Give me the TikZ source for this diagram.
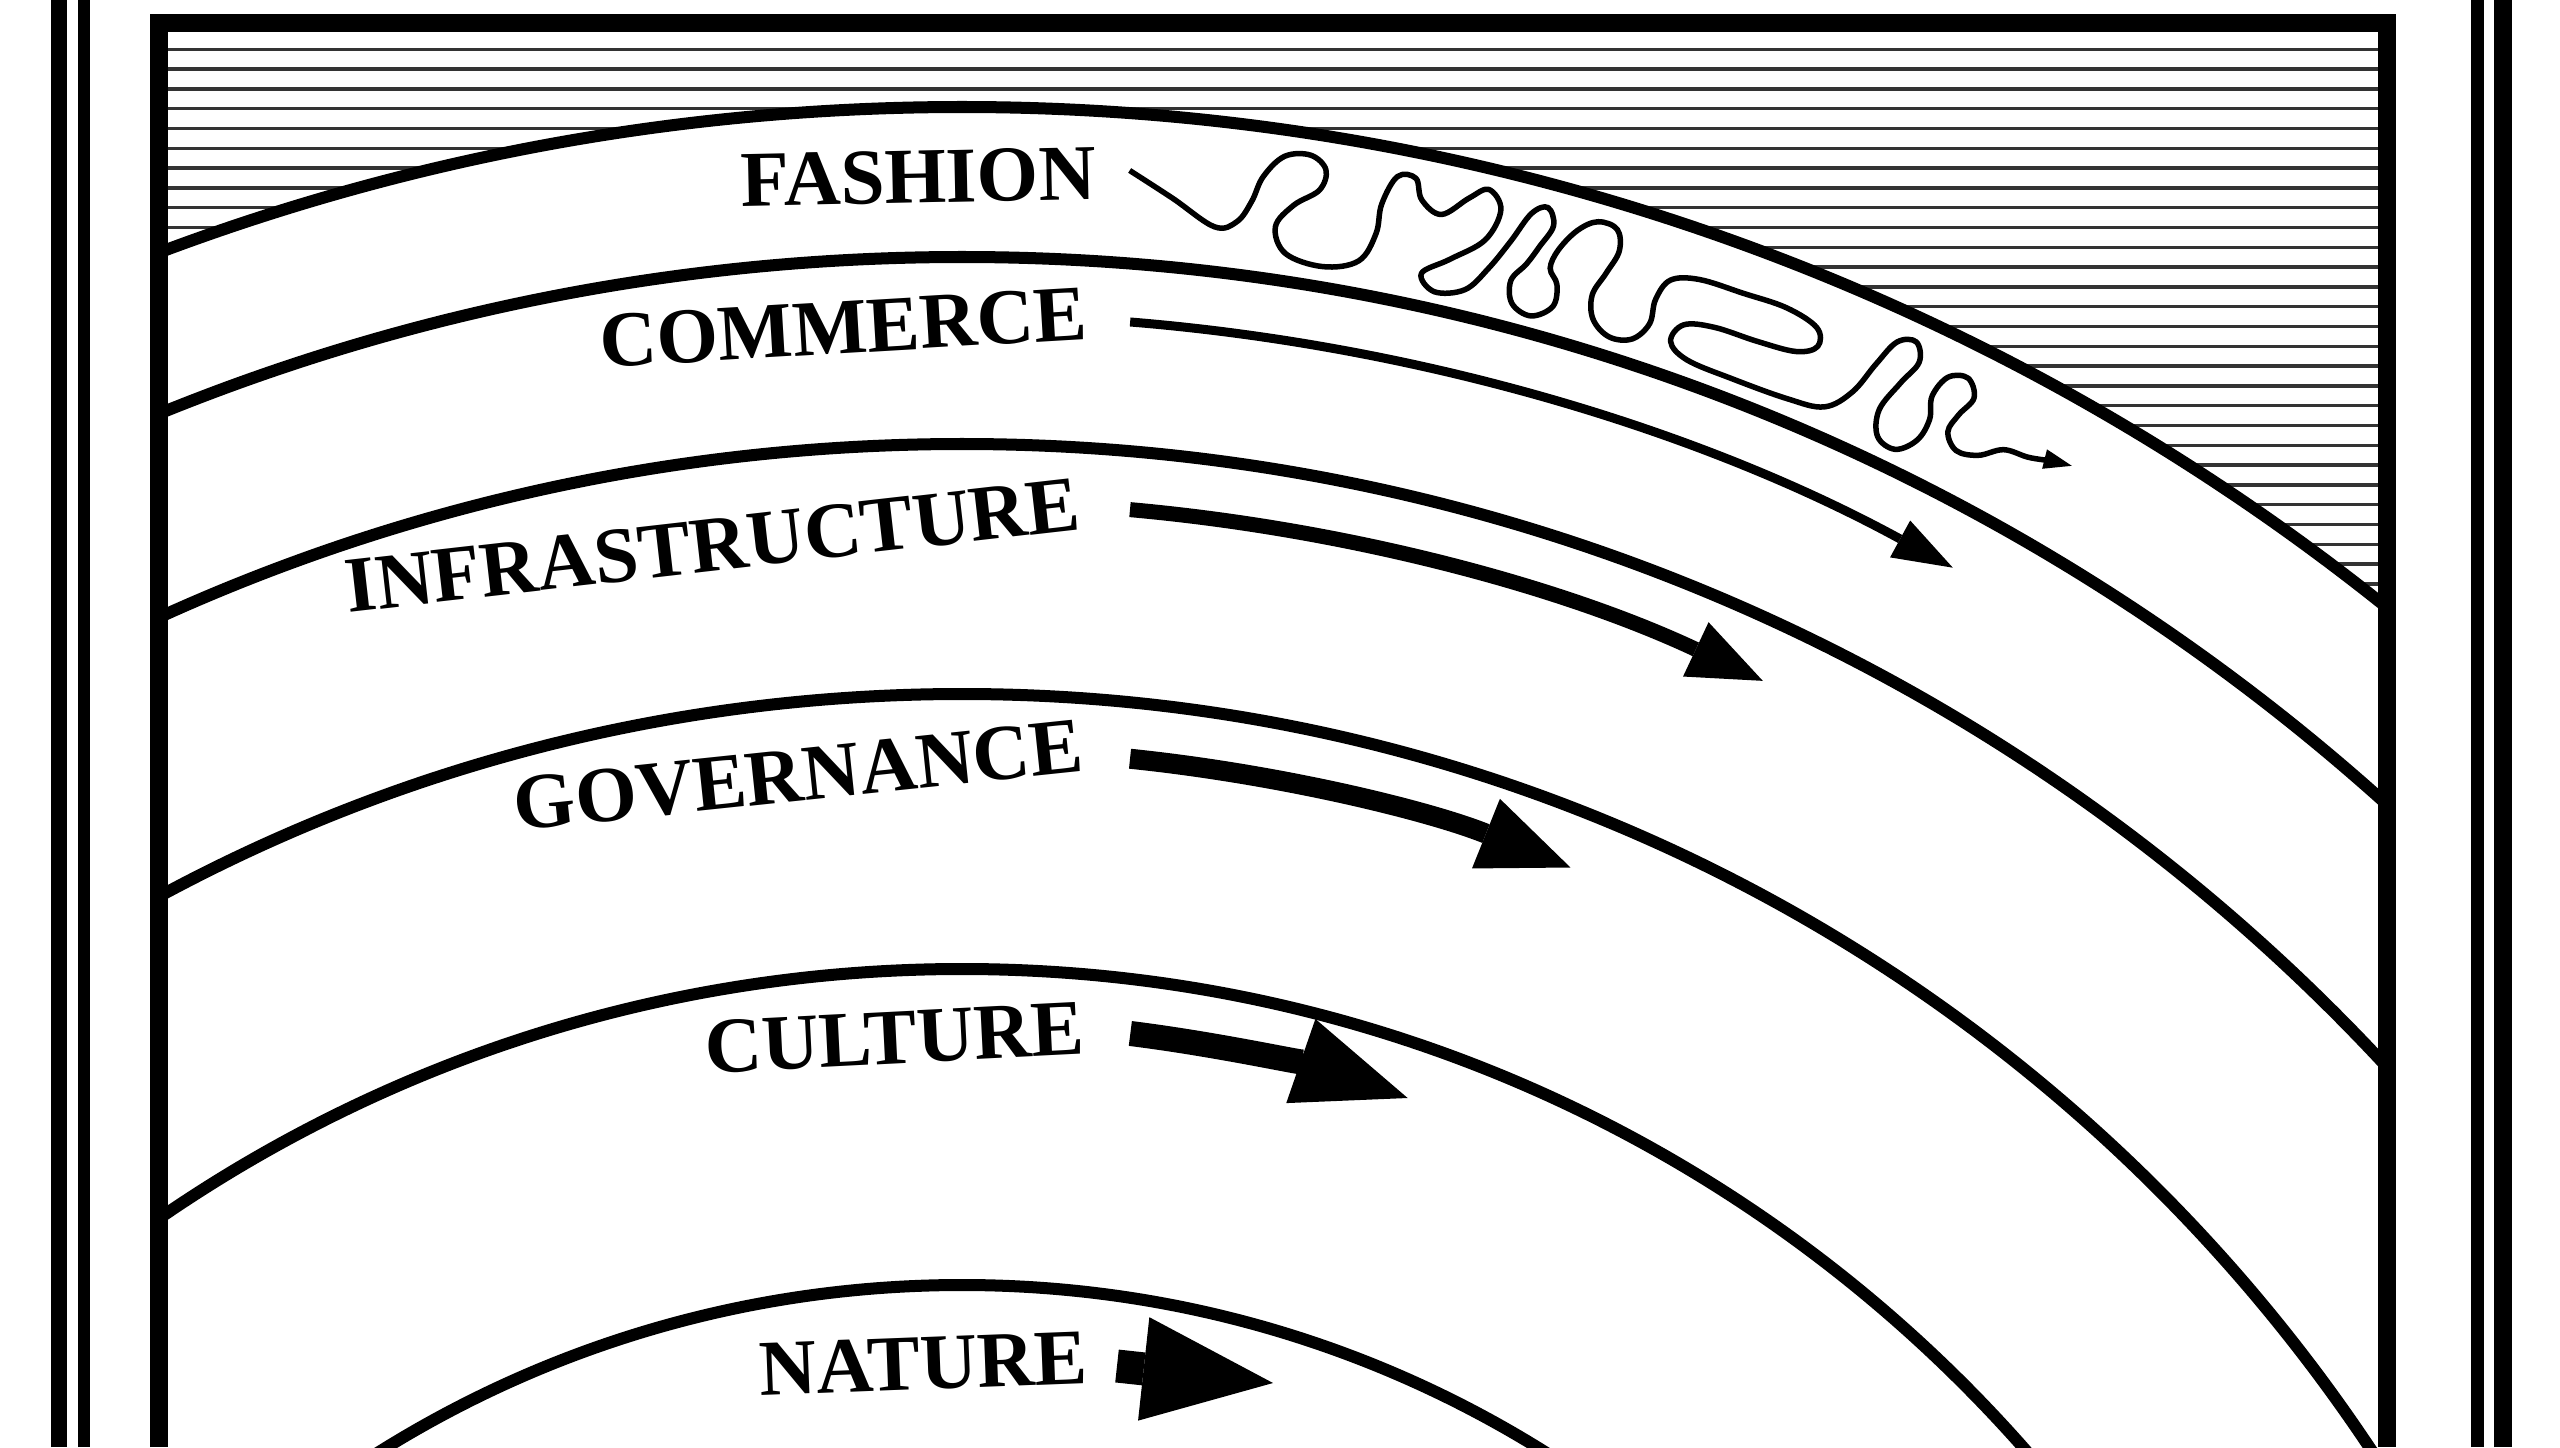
\documentclass[tikz,border=0pt]{standalone}
\usepackage{fontspec}
\setmainfont{Liberation Serif}
\usetikzlibrary{arrows.meta,calc}

\begin{document}
\begin{tikzpicture}[
    x=0.01cm, y=0.01cm,
    declare function={sa(\u)=85.67-0.02604*\u; sr(\v)=2203+\v;},
    ring/.style={line width=0.12cm},
    hatch/.style={line width=0.035cm, black!80},
    frame/.style={line width=0.18cm, line join=miter},
    layer/.style={font=\bfseries\fontsize{22.5}{27}\selectfont, anchor=base east, inner sep=0pt},
    flow/.style n args={3}{line width=#1, -{Triangle[length=#2, width=#3, line width=0pt]}},
    fashline/.style={line width=0.055cm, line join=round, -{Triangle[length=0.28cm, width=0.2cm, line width=0pt]}},
]
\useasboundingbox (0,0) rectangle (2560,1447);
\coordinate (ctr) at (962,-938);

\foreach \n in {0,...,28}
  \draw[hatch] (168,{1397.7-19.8*\n}) -- (2378,{1397.7-19.8*\n});

\begin{scope}
  \clip (168,0) rectangle (2378,1415);
  \fill[white] (ctr) circle[radius=2278];
  \foreach \r in {2278,2128,1941,1691,1416,1100}
    \draw[ring] (ctr) circle[radius=\r];
\end{scope}

\draw[frame] (159,0) -- (159,1424) -- (2387,1424) -- (2387,0);
\foreach \x/\w in {59/0.15cm,84/0.12cm,2477/0.13cm,2503/0.18cm}
  \draw[line width=\w] (\x,0) -- (\x,1447);

\node[layer, rotate=1.2] (fashion) at (1097,1248) {FASHION};
\node[layer, rotate=3.4] (commerce) at (1089,1108) {COMMERCE};
\node[layer, rotate=6.5] (infra) at (1083,918) {INFRASTRUCTURE};
\node[layer, rotate=6] (gov) at (1086,676) {GOVERNANCE};
\node[layer, rotate=2.9] (culture) at (1086,393) {CULTURE};
\node[layer, rotate=2.2] (nature) at (1089,64) {NATURE};

\coordinate (comA) at ($(ctr)+(85.34:2070)$);
\coordinate (infA) at ($(ctr)+(84.88:1883)$);
\coordinate (govA) at ($(ctr)+(84.1:1635)$);
\coordinate (culA) at ($(ctr)+(82.9:1362)$);
\coordinate (natA) at (1117,81);
\coordinate (natB) at (1273,64);

\draw[flow={0.09cm}{0.6cm}{0.42cm}] (comA) arc[start angle=85.34, end angle=61.4, radius=2070];
\draw[flow={0.15cm}{0.74cm}{0.6cm}] (infA) arc[start angle=84.88, end angle=64.83, radius=1883];
\draw[flow={0.2cm}{0.91cm}{0.75cm}] (govA) arc[start angle=84.1, end angle=68.15, radius=1635];
\draw[flow={0.25cm}{1.13cm}{0.89cm}] (culA) arc[start angle=82.9, end angle=70.9, radius=1362];
\draw[flow={0.33cm}{1.3cm}{1.04cm}] (natA) -- (natB);

\begin{scope}[shift={(ctr)}]
  \draw[fashline] plot[smooth, tension=0.6] coordinates {
    ({sa(0)}:{sr(18)}) ({sa(45)}:{sr(-6)}) ({sa(90)}:{sr(-30)}) ({sa(112)}:{sr(-22)})
    ({sa(124)}:{sr(0)}) ({sa(132)}:{sr(26)}) ({sa(150)}:{sr(49)}) ({sa(175)}:{sr(54)})
    ({sa(192)}:{sr(42)}) ({sa(189)}:{sr(21)}) ({sa(166)}:{sr(2)}) ({sa(151)}:{sr(-22)})
    ({sa(165)}:{sr(-47)}) ({sa(205)}:{sr(-54)}) ({sa(240)}:{sr(-42)}) ({sa(252)}:{sr(-12)})
    ({sa(252)}:{sr(18)}) ({sa(262)}:{sr(48)}) ({sa(280)}:{sr(50)}) ({sa(290)}:{sr(30)})
    ({sa(312)}:{sr(20)}) ({sa(335)}:{sr(42)}) ({sa(352)}:{sr(55)}) ({sa(368)}:{sr(38)})
    ({sa(360)}:{sr(5)}) ({sa(330)}:{sr(-22)}) ({sa(305)}:{sr(-42)}) ({sa(322)}:{sr(-57)})
    ({sa(352)}:{sr(-48)}) ({sa(370)}:{sr(-22)}) ({sa(385)}:{sr(10)}) ({sa(398)}:{sr(42)})
    ({sa(412)}:{sr(52)}) ({sa(422)}:{sr(36)}) ({sa(414)}:{sr(12)}) ({sa(406)}:{sr(-8)})
    ({sa(395)}:{sr(-28)}) ({sa(402)}:{sr(-50)}) ({sa(424)}:{sr(-57)}) ({sa(443)}:{sr(-42)})
    ({sa(441)}:{sr(-20)}) ({sa(430)}:{sr(-6)}) ({sa(433)}:{sr(14)}) ({sa(446)}:{sr(38)})
    ({sa(463)}:{sr(52)}) ({sa(483)}:{sr(50)}) ({sa(491)}:{sr(30)}) ({sa(485)}:{sr(5)})
    ({sa(478)}:{sr(-20)}) ({sa(486)}:{sr(-43)}) ({sa(507)}:{sr(-55)}) ({sa(530)}:{sr(-50)})
    ({sa(542)}:{sr(-30)}) ({sa(540)}:{sr(-5)}) ({sa(548)}:{sr(18)}) ({sa(575)}:{sr(28)})
    ({sa(620)}:{sr(30)}) ({sa(665)}:{sr(32)}) ({sa(700)}:{sr(25)}) ({sa(708)}:{sr(8)})
    ({sa(690)}:{sr(-5)}) ({sa(650)}:{sr(-10)}) ({sa(605)}:{sr(-12)}) ({sa(575)}:{sr(-20)})
    ({sa(568)}:{sr(-40)}) ({sa(590)}:{sr(-52)}) ({sa(640)}:{sr(-54)}) ({sa(700)}:{sr(-52)})
    ({sa(738)}:{sr(-45)}) ({sa(758)}:{sr(-20)}) ({sa(768)}:{sr(15)}) ({sa(778)}:{sr(44)})
    ({sa(795)}:{sr(52)}) ({sa(806)}:{sr(35)}) ({sa(798)}:{sr(8)}) ({sa(790)}:{sr(-25)})
    ({sa(800)}:{sr(-50)}) ({sa(822)}:{sr(-54)}) ({sa(838)}:{sr(-36)}) ({sa(840)}:{sr(-12)})
    ({sa(832)}:{sr(10)}) ({sa(838)}:{sr(34)}) ({sa(856)}:{sr(42)}) ({sa(870)}:{sr(27)})
    ({sa(864)}:{sr(5)}) ({sa(862)}:{sr(-15)}) ({sa(878)}:{sr(-28)}) ({sa(900)}:{sr(-22)})
    ({sa(920)}:{sr(-5)}) ({sa(945)}:{sr(0)}) ({sa(967)}:{sr(8)}) ({sa(987)}:{sr(14)})
  };
\end{scope}
\end{tikzpicture}
\end{document}
